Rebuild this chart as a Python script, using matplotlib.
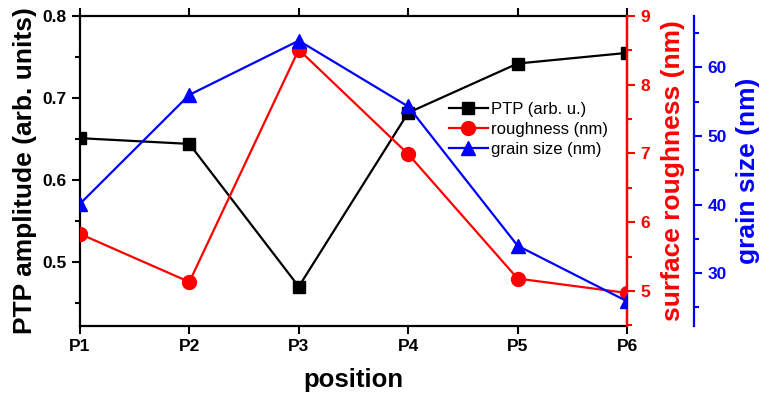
import numpy as np
import matplotlib.pyplot as plt
from matplotlib.ticker import MultipleLocator

plt.rcParams['font.family'] = ['Liberation Sans', 'DejaVu Sans']

positions = ['P1', 'P2', 'P3', 'P4', 'P5', 'P6']
ptp = [0.651, 0.644, 0.470, 0.682, 0.742, 0.755]          # arb. u.
roughness = [5.83, 5.13, 8.51, 6.99, 5.18, 4.97]          # nm
grain = [40.1, 56.0, 63.9, 54.3, 34.0, 25.9]              # nm

x = np.arange(len(positions))

fig = plt.figure(figsize=(7.61, 3.99), dpi=100)
ax = fig.add_axes([0.105, 0.183, 0.719, 0.777])
ax2 = ax.twinx()
ax3 = ax.twinx()
ax3.spines['right'].set_position(('axes', 1.1225))

l1, = ax.plot(x, ptp, '-s', color='black', lw=1.6, ms=8, label='PTP (arb. u.)')
l2, = ax2.plot(x, roughness, '-o', color='red', lw=1.6, ms=10, label='roughness (nm)')
l3, = ax3.plot(x, grain, '-^', color='blue', lw=1.6, ms=10, label='grain size (nm)')

ax.set_xlim(0, 5)
ax.set_ylim(0.422, 0.8)
ax2.set_ylim(4.49, 9)
ax3.set_ylim(22.3, 67.5)

ax.set_xticks(x)
ax.set_xticklabels(positions)
ax.yaxis.set_major_locator(MultipleLocator(0.1))
ax.yaxis.set_minor_locator(MultipleLocator(0.05))
ax.yaxis.set_major_formatter(plt.FormatStrFormatter('%.1f'))
ax2.yaxis.set_major_locator(MultipleLocator(1))
ax2.yaxis.set_minor_locator(MultipleLocator(0.5))
ax3.yaxis.set_major_locator(MultipleLocator(10))
ax3.yaxis.set_minor_locator(MultipleLocator(5))

for s in ax.spines.values():
    s.set_linewidth(1.6)
ax2.spines['right'].set_color('red')
ax2.spines['right'].set_linewidth(1.6)
ax3.spines['right'].set_color('blue')
ax3.spines['right'].set_linewidth(1.6)
for a in (ax2, ax3):
    for k in ('left', 'top', 'bottom'):
        a.spines[k].set_visible(False)

ax.tick_params(axis='both', which='major', direction='out', length=6, width=1.5,
               labelsize=12.5, top=True)
ax.tick_params(axis='y', which='minor', direction='out', length=3.5, width=1.5)
ax2.tick_params(axis='y', which='major', direction='out', length=6, width=1.5,
                colors='red', labelsize=12.5)
ax2.tick_params(axis='y', which='minor', direction='out', length=3.5, width=1.5, colors='red')
ax3.tick_params(axis='y', which='major', direction='out', length=6, width=1.5,
                colors='blue', labelsize=12.5)
ax3.tick_params(axis='y', which='minor', direction='out', length=3.5, width=1.5, colors='blue')
for a in (ax, ax2, ax3):
    for lab in a.get_xticklabels() + a.get_yticklabels():
        lab.set_fontweight('bold')

ax.set_xlabel('position', fontsize=18.5, fontweight='bold', labelpad=10)
ax.set_ylabel('PTP amplitude (arb. units)', fontsize=19, fontweight='bold', labelpad=4)
ax2.set_ylabel('surface roughness (nm)', fontsize=19, fontweight='bold', color='red', labelpad=8)
ax3.set_ylabel('grain size (nm)', fontsize=19, fontweight='bold', color='blue', labelpad=7)

ax.legend(handles=[l1, l2, l3], loc='upper left', bbox_to_anchor=(0.662, 0.745),
          frameon=False, fontsize=12, handlelength=2.35, handletextpad=0.2,
          labelspacing=0.3, borderaxespad=0)

fig.savefig('out.png', dpi=100)
